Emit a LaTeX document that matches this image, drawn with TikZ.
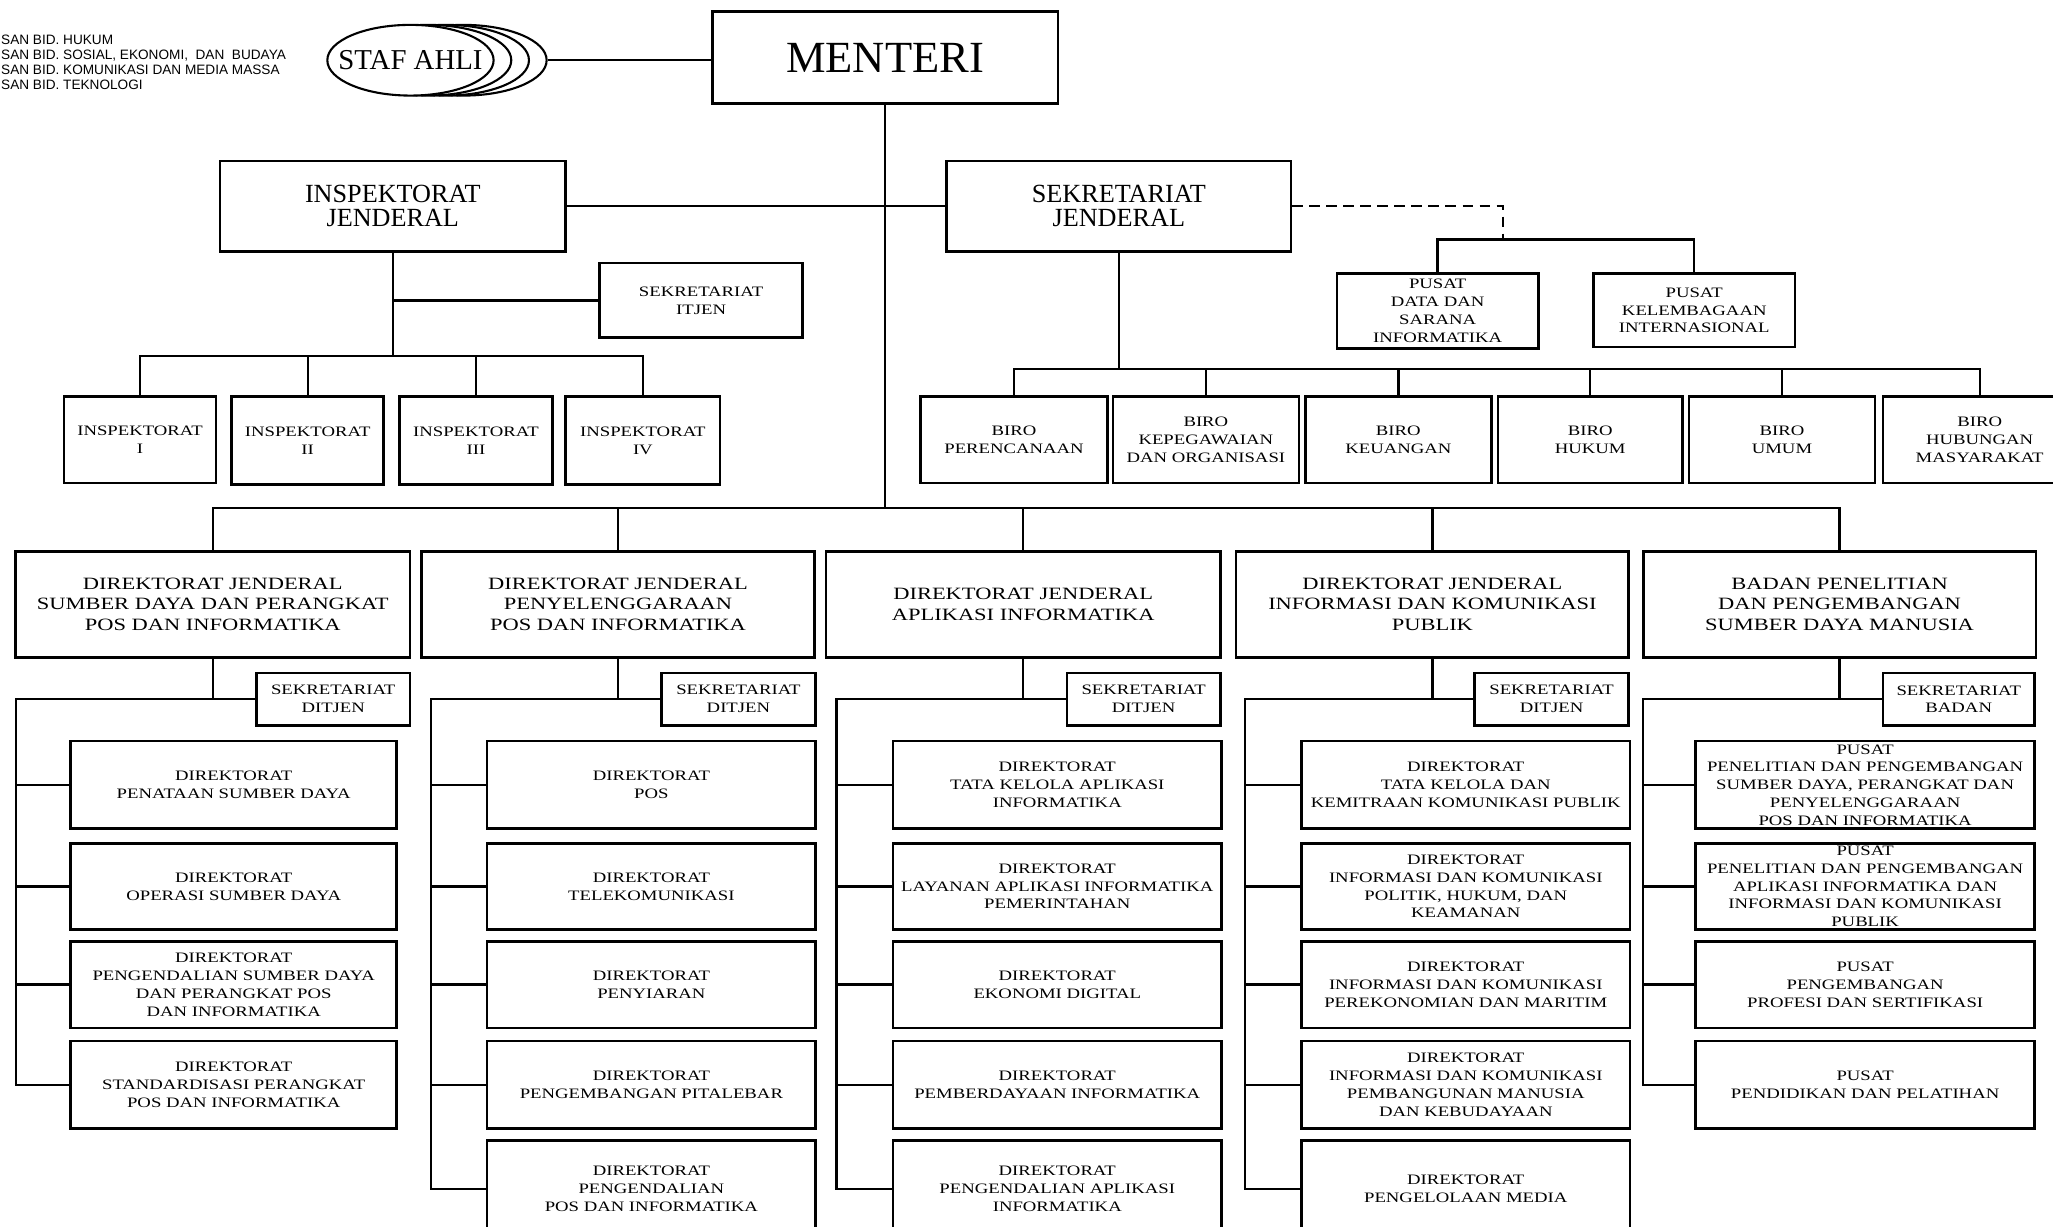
\documentclass[tikz,border=0pt]{standalone}
\usepackage{fontspec}
\setmainfont{Liberation Serif}
\newfontfamily\widefont[FakeStretch=1.3]{Liberation Serif}
\newfontfamily\sanslist{Liberation Sans}
\usetikzlibrary{shapes.geometric}

\newcommand\fsub{\widefont\fontsize{5.5}{6.8}\selectfont}
\newcommand\fdj{\widefont\fontsize{6.6}{7.9}\selectfont}
\newcommand\ftop{\fontsize{10}{9}\selectfont}
\newcommand\fmen{\fontsize{17}{20}\selectfont}
\newcommand\fstaf{\fontsize{11}{13}\selectfont}
\newcommand\ftiny{\sanslist\fontsize{5.2}{5.75}\selectfont}

\tikzset{
  box/.style={draw, line width=1pt, fill=white, inner sep=0pt, align=center, text=black, font=\fsub},
  djbox/.style={font=\fdj},
  topbox/.style={font=\ftop},
  ln/.style={line width=0.9pt},
  ell/.style={ellipse, draw, line width=0.8pt, fill=white, inner sep=0pt, minimum width=63.5pt, minimum height=27pt},
}

\newcommand\mybox[7][]{\node[box,#1,minimum width={(#5-#3)*0.5pt},minimum height={(#6-#4)*0.5pt}] (#2) at ({(#3+#5)/2},{(#4+#6)/2}) {#7};}

\begin{document}
\begin{tikzpicture}[x=0.5pt,y=-0.5pt]
\path[use as bounding box] (0,0) rectangle (1568,937);
\fill[white] (0,0) rectangle (1568,937);
\clip (0,0) rectangle (1568,937);

% top-left list
\node[anchor=west, align=left, inner sep=0pt, font=\ftiny] (sanlist) at (0.5,47.5)
 {SAN BID. HUKUM\\SAN BID. SOSIAL, EKONOMI,\ \ DAN\ \ BUDAYA\\SAN BID. KOMUNIKASI DAN MEDIA MASSA\\SAN BID. TEKNOLOGI};

% staf ahli
\node[ell] (staf4) at (354,46) {};
\node[ell] (staf3) at (340.5,46) {};
\node[ell] (staf2) at (327,46) {};
\node[ell] (staf1) at (313.5,46) {};
\node[font=\fstaf, inner sep=0pt] (staftxt) at (313.5,46) {STAF AHLI};

% top level
\mybox[font=\fmen]{menteri}{544}{9}{808}{79}{MENTERI}
\mybox[topbox]{ij}{168}{123}{432}{192}{INSPEKTORAT\\JENDERAL}
\mybox[topbox]{sj}{723}{123}{986}{192}{SEKRETARIAT\\JENDERAL}

\mybox{sekitjen}{458}{201}{613}{258}{SEKRETARIAT\\ITJEN}
\mybox{insp1}{49}{303}{165}{369}{INSPEKTORAT\\I}
\mybox{insp2}{177}{303}{293}{370}{INSPEKTORAT\\II}
\mybox{insp3}{305}{303}{422}{370}{INSPEKTORAT\\III}
\mybox{insp4}{432}{303}{550}{370}{INSPEKTORAT\\IV}

\mybox{pdata}{1021}{209}{1175}{266}{PUSAT\\DATA DAN\\SARANA\\INFORMATIKA}
\mybox{pkel}{1217}{209}{1371}{265}{PUSAT\\KELEMBAGAAN\\INTERNASIONAL}

\mybox{biro1}{703}{303}{846}{369}{BIRO\\PERENCANAAN}
\mybox{biro2}{850}{303}{992}{369}{BIRO\\KEPEGAWAIAN\\DAN ORGANISASI}
\mybox{biro3}{997}{303}{1139}{369}{BIRO\\KEUANGAN}
\mybox{biro4}{1144}{303}{1285}{369}{BIRO\\HUKUM}
\mybox{biro5}{1290}{303}{1432}{369}{BIRO\\UMUM}
\mybox{biro6}{1438}{303}{1586}{369}{BIRO\\HUBUNGAN\\MASYARAKAT}

% direktorat jenderal
\mybox[djbox]{dj1}{12}{421}{313}{502}{DIREKTORAT JENDERAL\\SUMBER DAYA DAN PERANGKAT\\POS DAN INFORMATIKA}
\mybox[djbox]{dj2}{322}{421}{622}{502}{DIREKTORAT JENDERAL\\PENYELENGGARAAN\\POS DAN INFORMATIKA}
\mybox[djbox]{dj3}{631}{421}{932}{502}{DIREKTORAT JENDERAL\\APLIKASI INFORMATIKA}
\mybox[djbox]{dj4}{944}{421}{1244}{502}{DIREKTORAT JENDERAL\\INFORMASI DAN KOMUNIKASI\\PUBLIK}
\mybox[djbox]{dj5}{1255}{421}{1555}{502}{BADAN PENELITIAN\\DAN PENGEMBANGAN\\SUMBER DAYA MANUSIA}

\mybox{sek1}{196}{514}{313}{554}{SEKRETARIAT\\DITJEN}
\mybox{sek2}{505}{514}{623}{554}{SEKRETARIAT\\DITJEN}
\mybox{sek3}{815}{514}{932}{554}{SEKRETARIAT\\DITJEN}
\mybox{sek4}{1126}{514}{1244}{554}{SEKRETARIAT\\DITJEN}
\mybox{sek5}{1438}{514}{1554}{554}{SEKRETARIAT\\BADAN}

% column 1
\mybox{c1a}{54}{566}{303}{633}{DIREKTORAT\\PENATAAN SUMBER DAYA}
\mybox{c1b}{54}{644}{303}{710}{DIREKTORAT\\OPERASI SUMBER DAYA}
\mybox{c1c}{54}{719}{303}{785}{DIREKTORAT\\PENGENDALIAN SUMBER DAYA\\DAN PERANGKAT POS\\DAN INFORMATIKA}
\mybox{c1d}{54}{795}{303}{862}{DIREKTORAT\\STANDARDISASI PERANGKAT\\POS DAN INFORMATIKA}
% column 2
\mybox{c2a}{372}{566}{623}{633}{DIREKTORAT\\POS}
\mybox{c2b}{372}{644}{623}{710}{DIREKTORAT\\TELEKOMUNIKASI}
\mybox{c2c}{372}{719}{623}{785}{DIREKTORAT\\PENYIARAN}
\mybox{c2d}{372}{795}{623}{862}{DIREKTORAT\\PENGEMBANGAN PITALEBAR}
\mybox{c2e}{372}{871}{623}{945}{DIREKTORAT\\PENGENDALIAN\\POS DAN INFORMATIKA}
% column 3
\mybox{c3a}{682}{566}{933}{633}{DIREKTORAT\\TATA KELOLA APLIKASI\\INFORMATIKA}
\mybox{c3b}{682}{644}{933}{710}{DIREKTORAT\\LAYANAN APLIKASI INFORMATIKA\\PEMERINTAHAN}
\mybox{c3c}{682}{719}{933}{785}{DIREKTORAT\\EKONOMI DIGITAL}
\mybox{c3d}{682}{795}{933}{862}{DIREKTORAT\\PEMBERDAYAAN INFORMATIKA}
\mybox{c3e}{682}{871}{933}{945}{DIREKTORAT\\PENGENDALIAN APLIKASI\\INFORMATIKA}
% column 4
\mybox{c4a}{994}{566}{1245}{633}{DIREKTORAT\\TATA KELOLA DAN\\KEMITRAAN KOMUNIKASI PUBLIK}
\mybox{c4b}{994}{644}{1245}{710}{DIREKTORAT\\INFORMASI DAN KOMUNIKASI\\POLITIK, HUKUM, DAN\\KEAMANAN}
\mybox{c4c}{994}{719}{1245}{785}{DIREKTORAT\\INFORMASI DAN KOMUNIKASI\\PEREKONOMIAN DAN MARITIM}
\mybox{c4d}{994}{795}{1245}{862}{DIREKTORAT\\INFORMASI DAN KOMUNIKASI\\PEMBANGUNAN MANUSIA\\DAN KEBUDAYAAN}
\mybox{c4e}{994}{871}{1245}{945}{DIREKTORAT\\PENGELOLAAN MEDIA}
% column 5
\mybox{c5a}{1295}{566}{1554}{633}{PUSAT\\PENELITIAN DAN PENGEMBANGAN\\SUMBER DAYA, PERANGKAT DAN\\PENYELENGGARAAN\\POS DAN INFORMATIKA}
\mybox{c5b}{1295}{644}{1554}{710}{PUSAT\\PENELITIAN DAN PENGEMBANGAN\\APLIKASI INFORMATIKA DAN\\INFORMASI DAN KOMUNIKASI\\PUBLIK}
\mybox{c5c}{1295}{719}{1554}{785}{PUSAT\\PENGEMBANGAN\\PROFESI DAN SERTIFIKASI}
\mybox{c5d}{1295}{795}{1554}{862}{PUSAT\\PENDIDIKAN DAN PELATIHAN}

% junction coordinates
\coordinate (ib) at (300,272);
\coordinate (pj) at (1148,183);
\coordinate (bb) at (855.5,282);
\coordinate (db) at (675.5,388);
\coordinate (L1) at (12,534);
\coordinate (L2) at (329,534);
\coordinate (L3) at (639,534);
\coordinate (L4) at (951,534);
\coordinate (L5) at (1255,534);

% connectors
\draw[ln] (staf4.east) -- (staf4.east -| menteri.west);
\draw[ln] (menteri.south) -- (menteri.south |- db);
\draw[ln] (ij.east) -- (sj.west);

\draw[ln] (ij.south) -- (ij.south |- ib);
\draw[ln] (sekitjen.west) -- (sekitjen.west -| ij.south);
\draw[ln] (insp1.north) |- (ib) -| (insp4.north);
\draw[ln] (insp2.north) -- (insp2.north |- ib);
\draw[ln] (insp3.north) -- (insp3.north |- ib);

\draw[ln, dash pattern=on 4pt off 2.5pt] (sj.east) -| (pj);
\draw[ln] (pdata.north) |- (pj) -| (pkel.north);

\draw[ln] (sj.south) -- (sj.south |- bb);
\draw[ln] (biro1.north) |- (bb) -| (biro6.north);
\foreach \b in {2,3,4,5} \draw[ln] (biro\b.north) -- (biro\b.north |- bb);

\draw[ln] (dj1.north) |- (db) -| (dj5.north);
\foreach \d in {2,3,4} \draw[ln] (dj\d.north) -- (dj\d.north |- db);

\foreach \k/\last in {1/d,2/e,3/e,4/e,5/d} {
  \draw[ln] (dj\k.south) -- (dj\k.south |- sek\k.west);
  \draw[ln] (sek\k.west) -- (sek\k.west -| L\k) -- (L\k |- c\k\last.west) -- (c\k\last.west);
}
\foreach \k/\r in {1/a,1/b,1/c,2/a,2/b,2/c,2/d,3/a,3/b,3/c,3/d,4/a,4/b,4/c,4/d,5/a,5/b,5/c}
  \draw[ln] (c\k\r.west) -- (c\k\r.west -| L\k);
\end{tikzpicture}
\end{document}
